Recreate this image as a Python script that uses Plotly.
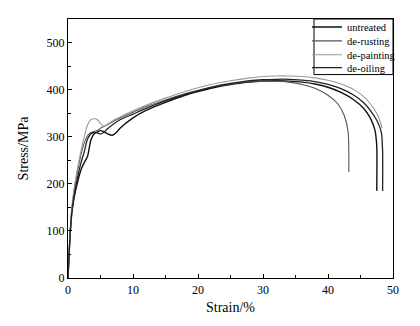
import plotly.graph_objects as go

untreated_x = [0, 0.3, 0.6, 1, 1.5, 2, 2.5, 3, 3.5, 4, 4.5, 5, 5.5, 6, 6.8, 7.5, 8, 10, 12, 15, 18, 20, 22, 25, 28, 30, 32, 34, 36, 38, 40, 42, 44, 45.5, 46.5, 47.2, 47.5, 47.5]
untreated_y = [0, 85, 140, 175, 205, 230, 245, 258, 292, 306, 310, 313, 311, 307, 303, 310, 318, 340, 356, 373, 388, 396, 403, 411, 416, 418, 419, 418, 416, 412, 405, 394, 378, 360, 340, 315, 280, 185]

derusting_x = [0, 0.3, 0.6, 1, 1.5, 2, 2.5, 3, 3.5, 4, 4.5, 5, 6, 7, 8, 10, 12, 15, 18, 20, 22, 25, 28, 30, 32, 34, 36, 38, 40, 41.5, 42.5, 43.1, 43.2, 43.2]
derusting_y = [0, 88, 148, 190, 230, 262, 287, 302, 309, 311, 313, 318, 325, 333, 340, 352, 364, 378, 391, 398, 405, 412, 417, 418, 418, 416, 411, 403, 388, 370, 345, 310, 270, 225]

depainting_x = [0, 0.3, 0.6, 1, 1.5, 2, 2.5, 3, 3.5, 4.2, 4.6, 5, 5.5, 6, 7, 8, 10, 12, 15, 18, 20, 22, 25, 28, 30, 32, 34, 36, 38, 40, 42, 44, 45.5, 46.5, 47.5, 48.2, 48.3]
depainting_y = [0, 90, 150, 195, 235, 270, 300, 325, 336, 338, 335, 328, 322, 326, 335, 342, 355, 367, 382, 396, 404, 411, 419, 425, 428, 429, 429, 428, 425, 420, 412, 400, 385, 370, 350, 325, 318]

deoiling_x = [0, 0.3, 0.6, 1, 1.5, 2, 2.5, 3, 3.5, 4, 4.5, 5, 5.5, 6, 7, 8, 10, 12, 15, 18, 20, 22, 25, 28, 30, 32, 34, 36, 38, 40, 42, 44, 45.5, 46.5, 47.5, 48.2, 48.4, 48.4]
deoiling_y = [0, 86, 142, 180, 215, 245, 268, 295, 306, 309, 308, 306, 309, 316, 327, 336, 348, 360, 376, 390, 398, 405, 413, 419, 421, 422, 422, 420, 417, 411, 402, 388, 372, 356, 335, 310, 270, 185]

series = [
    ("untreated", untreated_x, untreated_y, "#111111", 1.4),
    ("de-rusting", derusting_x, derusting_y, "#555555", 1.1),
    ("de-painting", depainting_x, depainting_y, "#9a9a9a", 1.1),
    ("de-oiling", deoiling_x, deoiling_y, "#222222", 1.3),
]

FONT = "Liberation Serif"
L, R, T, B, W, H = 68, 27, 17, 48, 420, 326
PW, PH = W - L - R, H - T - B

def px_x(p):
    return (p - L) / PW

def px_y(p):
    return (H - B - p) / PH

fig = go.Figure()
legend_rows = [25, 39, 53, 66]
for i, (name, xs, ys, col, w) in enumerate(series):
    key = "legend" if i == 0 else f"legend{i+1}"
    fig.add_trace(go.Scatter(x=xs, y=ys, mode="lines", name=name, legend=key, showlegend=True,
                             line=dict(color=col, width=w, shape="spline", smoothing=0.6)))
    fig.update_layout({key: dict(x=px_x(307), xanchor="left", y=px_y(legend_rows[i]), yanchor="middle",
                                 bgcolor="rgba(0,0,0,0)", borderwidth=0, visible=True,
                                 font=dict(family=FONT, size=10.5, color="black"), itemwidth=30)})

fig.add_shape(type="rect", xref="paper", yref="paper", x0=px_x(314), x1=1, y0=px_y(73), y1=1,
              line=dict(color="black", width=1), fillcolor="rgba(0,0,0,0)", layer="above")

axis_common = dict(showline=True, linecolor="black", linewidth=1.2, mirror=True,
                   ticks="inside", ticklen=4, tickcolor="black", showgrid=False, zeroline=False,
                   tickfont=dict(family=FONT, size=12, color="black"))
fig.update_xaxes(range=[0, 50], dtick=10, minor=dict(ticks="inside", ticklen=3, dtick=5, tickcolor="black"),
                 title=dict(text="Strain/%", font=dict(family=FONT, size=14, color="black"), standoff=6),
                 **axis_common)
fig.update_yaxes(range=[0, 550], dtick=100, minor=dict(ticks="inside", ticklen=3, dtick=50, tickcolor="black"),
                 title=dict(text="Stress/MPa", font=dict(family=FONT, size=14, color="black"), standoff=14),
                 **axis_common)
fig.update_layout(width=W, height=H, margin=dict(l=L, r=R, t=T, b=B), showlegend=True,
                  paper_bgcolor="white", plot_bgcolor="white",
                  font=dict(family=FONT, color="black"))
fig.write_html("out.html")
